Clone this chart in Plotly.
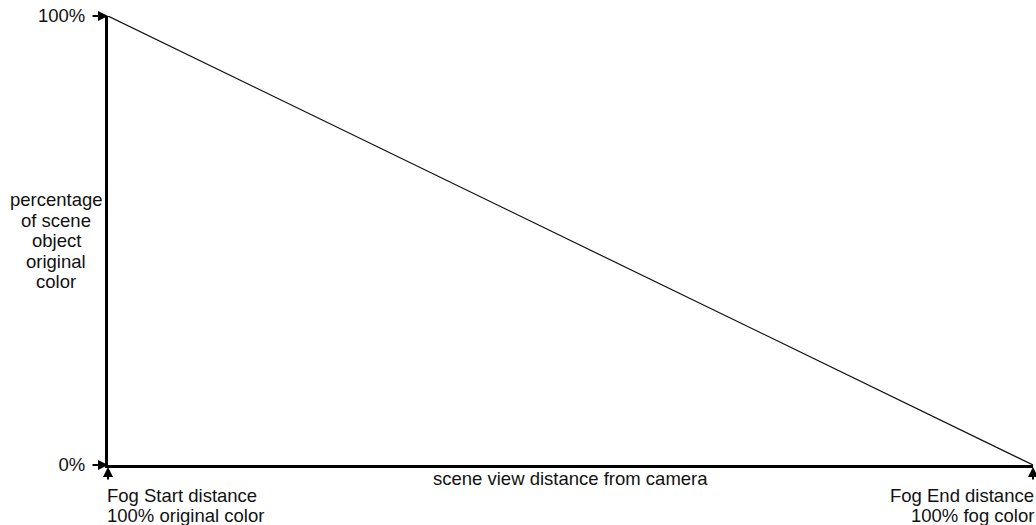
import plotly.graph_objects as go

# Data
distance = [0, 1]            # fog start -> fog end (normalized)
original_pct = [100, 0]      # percentage of original color
y_ticks = [0, 100]
y_ticktext = ["0%", "100%"]
x_label_start = ["Fog Start distance", "100% original color"]
x_label_end = ["Fog End distance", "100% fog color"]
y_title_lines = ["percentage", "of scene", "object", "original", "color"]
x_title = "scene view distance from camera"

FONT = dict(family="Liberation Sans, Arial, sans-serif", size=18.5, color="#111")

fig = go.Figure()
fig.add_trace(go.Scatter(x=distance, y=original_pct, mode="lines",
                         line=dict(color="#111", width=1.2), hoverinfo="skip",
                         showlegend=False))

annotations = []
# y-axis title lines
for i, t in enumerate(y_title_lines):
    annotations.append(dict(xref="paper", yref="paper", x=0, y=0.5,
                            xshift=-52, yshift=41 - i * 20.5, text=t,
                            showarrow=False, xanchor="center", yanchor="middle",
                            font=FONT))
# x end labels
for i in range(2):
    annotations.append(dict(xref="x", yref="paper", x=distance[0], y=0,
                            text=x_label_start[i], showarrow=False, xanchor="left",
                            yanchor="middle", yshift=-30 - i * 20, xshift=-3,
                            font=FONT))
    annotations.append(dict(xref="x", yref="paper", x=distance[-1], y=0,
                            text=x_label_end[i], showarrow=False, xanchor="right",
                            yanchor="middle", yshift=-30 - i * 20, xshift=3,
                            font=FONT))
# x title
annotations.append(dict(xref="paper", yref="paper", x=0.5, y=0,
                        text=x_title, showarrow=False, xanchor="center",
                        yanchor="middle", yshift=-13, font=FONT))
# arrows to y ticks
for yv in y_ticks:
    annotations.append(dict(xref="x", yref="y", x=distance[0], y=yv, ax=-17, ay=0,
                            text="", showarrow=True, arrowhead=2, arrowsize=1,
                            arrowwidth=2, arrowcolor="#000", standoff=0))
# up arrows at x ends
for xv in distance:
    annotations.append(dict(xref="x", yref="y", x=xv, y=0, ax=0, ay=16,
                            text="", showarrow=True, arrowhead=2, arrowsize=1,
                            arrowwidth=2, arrowcolor="#000", standoff=2))

fig.update_layout(
    width=1036, height=525,
    margin=dict(l=108, r=3, t=16, b=60),
    paper_bgcolor="white", plot_bgcolor="white",
    showlegend=False,
    xaxis=dict(range=[0, 1], showgrid=False, zeroline=False, showline=True,
               linecolor="#000", linewidth=3, showticklabels=False, ticks=""),
    yaxis=dict(range=[0, 100], showgrid=False, zeroline=False, showline=True,
               linecolor="#000", linewidth=3, tickvals=y_ticks,
               ticktext=y_ticktext, ticks="", ticklabelstandoff=16,
               tickfont=FONT),
    annotations=annotations,
)

fig.write_html("out.html", config={"displayModeBar": False},
               post_script="document.body.style.margin='0';")
